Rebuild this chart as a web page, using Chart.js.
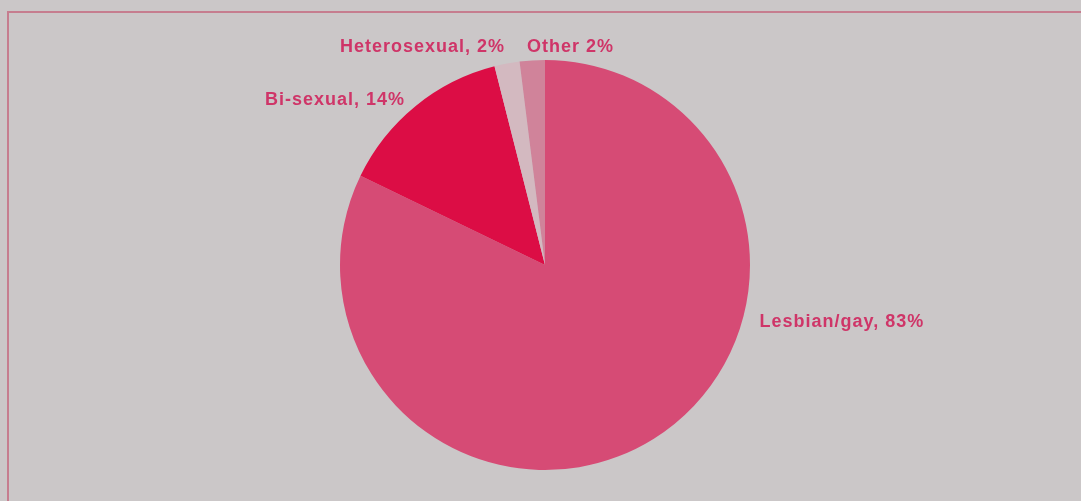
<!DOCTYPE html>
<html lang="en">
<head>
    <meta charset="UTF-8">
    <title>Sexual orientation</title>
    <script src="https://cdn.jsdelivr.net/npm/chart.js"></script>
    <style>
        html, body { margin: 0; padding: 0; background: #cbc7c8; }
        #wrap { position: relative; width: 1081px; height: 501px; }
        #frame {
            position: absolute; left: 7px; top: 11px; right: -4px; bottom: -4px;
            border-top: 2px solid #c67d8f; border-left: 2px solid #c67d8f;
        }
        canvas { position: absolute; left: 0; top: 0; }
    </style>
</head>
<body>
<div id="wrap">
    <div id="frame"></div>
    <canvas id="pie" width="1081" height="501"></canvas>
</div>

<script>
    // Data (clockwise from 12 o'clock)
    const categories = ['Lesbian/gay', 'Bi-sexual', 'Heterosexual', 'Other'];
    const percents = [83, 14, 2, 2];
    const labelTexts = ['Lesbian/gay, 83%', 'Bi-sexual, 14%', 'Heterosexual, 2%', 'Other 2%'];

    const sliceColors = ['#d64b75', '#dc0d45', '#d3b9c0', '#d0839a'];

    // where each outside label sits: angle (deg clockwise from top), gap past the rim, alignment
    const labelLayout = [
        { angle: 104.9, gap: 17, align: 'left' },
        { angle: 300.5, gap: 120, align: 'left' },
        { angle: 349.6, gap: 16.5, align: 'right' },
        { angle: 355.3, gap: 13.5, align: 'left' }
    ];

    const outsideLabels = {
        id: 'outsideLabels',
        afterDatasetsDraw(chart) {
            const ctx = chart.ctx;
            const arcs = chart.getDatasetMeta(0).data;
            ctx.save();
            ctx.font = 'bold 18px "Liberation Sans", Arial, sans-serif';
            ctx.letterSpacing = '1px';
            ctx.fillStyle = '#cf3568';
            ctx.textBaseline = 'middle';
            arcs.forEach((arc, i) => {
                const { x, y, outerRadius } = arc.getProps(['x', 'y', 'outerRadius'], true);
                const lay = labelLayout[i];
                const a = lay.angle * Math.PI / 180;
                const r = outerRadius + lay.gap;
                ctx.textAlign = lay.align;
                ctx.fillText(labelTexts[i], x + r * Math.sin(a), y - r * Math.cos(a));
            });
            ctx.restore();
        }
    };

    new Chart(document.getElementById('pie'), {
        type: 'pie',
        data: {
            labels: categories,
            datasets: [{
                data: percents,
                backgroundColor: sliceColors,
                borderWidth: 0
            }]
        },
        options: {
            responsive: false,
            animation: false,
            layout: { padding: { left: 9, right: 0, top: 60, bottom: 31 } },
            plugins: {
                legend: { display: false },
                tooltip: { enabled: false }
            }
        },
        plugins: [outsideLabels]
    });
</script>
</body>
</html>
